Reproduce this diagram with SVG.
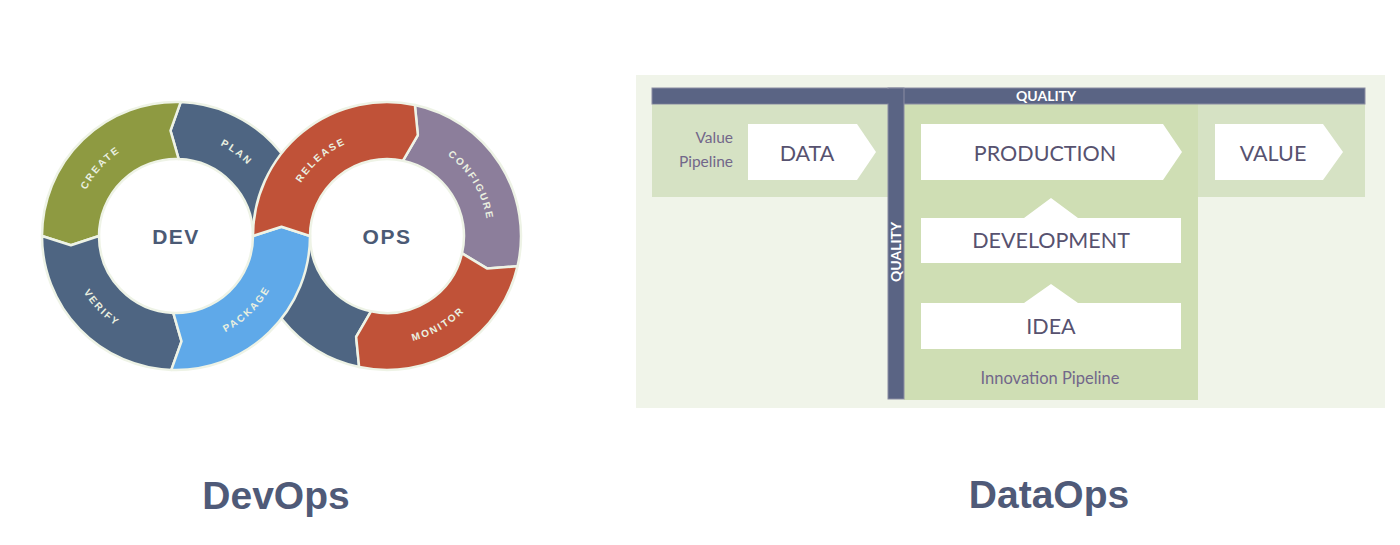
<svg xmlns="http://www.w3.org/2000/svg" width="1400" height="545" viewBox="0 0 1400 545">
<style>
.seg{stroke:#eef3e6;stroke-width:2.5;stroke-linejoin:round}
.lbl{font-family:"Liberation Sans",Arial,sans-serif;font-weight:bold;font-size:10px;letter-spacing:2px;fill:#eaf0e0}
.hub{font-family:"Liberation Sans",Arial,sans-serif;font-weight:bold;font-size:21px;letter-spacing:1.5px;fill:#4b5a75;text-anchor:middle}
.title{font-family:"Liberation Sans",Arial,sans-serif;font-weight:bold;font-size:39px;fill:#4f5a78;text-anchor:middle}
.box{fill:#ffffff}
.btxt{font-family:Lato,"Liberation Sans",sans-serif;font-size:21.5px;fill:#57526f;text-anchor:middle}
.note{font-family:Lato,"Liberation Sans",sans-serif;font-size:15.5px;fill:#72678a}
.q{font-family:Lato,"Liberation Sans",sans-serif;font-weight:bold;font-size:14px;fill:#ffffff;text-anchor:middle}
.bar{fill:#5a6484;stroke:#8a8ca2;stroke-width:1}
</style>
<defs>
<path id="pCreate" d="M75.06,232.48 A101,101 0 0 1 161.94,135.98"/>
<path id="pPlan" d="M168.95,135.25 A101,101 0 0 1 274.00,211.57"/>
<path id="pVerify" d="M68.26,243.53 A108,108 0 0 0 164.71,343.41"/>
<path id="pPackage" d="M183.53,343.74 A108,108 0 0 0 283.41,247.29"/>
<path id="pRelease" d="M287.24,220.20 A101,101 0 0 1 385.24,135.02"/>
<path id="pConfigure" d="M419.88,140.50 A101,101 0 0 1 486.76,251.80"/>
<path id="pMonitor" d="M368.25,342.36 A108,108 0 0 0 488.49,272.94"/>
</defs>
<rect width="1400" height="545" fill="#ffffff"/>

<g id="devops">
  <g id="plan">
    <path class="seg" fill="#4e6582" d="M180.68,102.08 L170.48,130.64 L178.69,159.05 A77,77 0 0 1 253,236 L310,236 A134,134 0 0 0 180.68,102.08 Z"/>
    <text class="lbl"><textPath href="#pPlan" startOffset="50%" text-anchor="middle">PLAN</textPath></text>
  </g>
  <g id="plan-return">
    <path class="seg" fill="#4e6582" d="M359.14,367.07 A134,134 0 0 1 253,236 L310,236 A77,77 0 0 0 370.99,311.32 L356.15,336.89 Z"/>
  </g>
  <g id="create">
    <path class="seg" fill="#8e9a41" d="M180.68,102.08 A134,134 0 0 0 42,236 L70.90,245.20 L99,236 A77,77 0 0 1 178.69,159.05 L170.48,130.64 Z"/>
    <text class="lbl"><textPath href="#pCreate" startOffset="50%" text-anchor="middle">CREATE</textPath></text>
  </g>
  <g id="verify">
    <path class="seg" fill="#4e6582" d="M42,236 A134,134 0 0 0 171.32,369.92 L181.52,341.36 L173.31,312.95 A77,77 0 0 1 99,236 L70.90,245.20 Z"/>
    <text class="lbl"><textPath href="#pVerify" startOffset="50%" text-anchor="middle">VERIFY</textPath></text>
  </g>
  <g id="configure">
    <path class="seg" fill="#8c7e9b" d="M414.86,104.93 A134,134 0 0 1 517.57,266.14 L487.34,268.60 L462.03,253.32 A77,77 0 0 0 403.01,160.68 L417.85,135.11 Z"/>
    <text class="lbl"><textPath href="#pConfigure" startOffset="50%" text-anchor="middle">CONFIGURE</textPath></text>
  </g>
  <g id="monitor">
    <path class="seg" fill="#c05238" d="M517.57,266.14 A134,134 0 0 1 359.14,367.07 L356.15,336.89 L370.99,311.32 A77,77 0 0 0 462.03,253.32 L487.34,268.60 Z"/>
    <text class="lbl"><textPath href="#pMonitor" startOffset="50%" text-anchor="middle">MONITOR</textPath></text>
  </g>
  <g id="package">
    <path class="seg" fill="#5fa9e9" d="M171.32,369.92 A134,134 0 0 0 310,236 L281.5,226.80 L253,236 A77,77 0 0 1 173.31,312.95 L181.52,341.36 Z"/>
    <text class="lbl"><textPath href="#pPackage" startOffset="50%" text-anchor="middle">PACKAGE</textPath></text>
  </g>
  <g id="release">
    <path class="seg" fill="#c05238" d="M253,236 A134,134 0 0 1 414.86,104.93 L417.85,135.11 L403.01,160.68 A77,77 0 0 0 310,236 L281.5,226.80 Z"/>
    <text class="lbl"><textPath href="#pRelease" startOffset="50%" text-anchor="middle">RELEASE</textPath></text>
  </g>
  <g id="dev"><text class="hub" x="176" y="243.5">DEV</text></g>
  <g id="ops"><text class="hub" x="387" y="243.5">OPS</text></g>
</g>

<g id="dataops">
  <rect x="636" y="75" width="749" height="333" fill="#f0f4e9"/>
  <g id="value-pipeline">
    <rect x="652" y="104" width="236" height="93" fill="#d6e2c4"/>
    <rect x="1198" y="104" width="167" height="93" fill="#d6e2c4"/>
    <text class="note" x="733" y="143" text-anchor="end">Value</text>
    <text class="note" x="733" y="167" text-anchor="end">Pipeline</text>
  </g>
  <g id="innovation-pipeline">
    <rect x="904" y="104" width="294" height="296" fill="#cfdeb4"/>
    <text class="note" x="1050" y="384" text-anchor="middle" style="font-size:16.5px">Innovation Pipeline</text>
  </g>
  <g id="quality-h">
    <rect class="bar" x="652" y="88" width="713" height="16"/>
    <text class="q" x="1046" y="101">QUALITY</text>
  </g>
  <g id="quality-v">
    <rect class="bar" x="888" y="88" width="16" height="311"/>
    <rect x="653" y="89" width="250" height="14.5" fill="#5a6484"/>
    <text class="q" transform="translate(901,252) rotate(-90)">QUALITY</text>
  </g>
  <g id="data">
    <polygon class="box" points="748,124 857,124 876,152 857,180 748,180"/>
    <text class="btxt" x="807" y="160.5">DATA</text>
  </g>
  <g id="production">
    <polygon class="box" points="921,124 1163,124 1182,152 1163,180 921,180"/>
    <text class="btxt" x="1045" y="160.5">PRODUCTION</text>
  </g>
  <g id="value">
    <polygon class="box" points="1215,124 1323,124 1343,152 1323,180 1215,180"/>
    <text class="btxt" x="1273" y="160.5">VALUE</text>
  </g>
  <g id="development">
    <polygon class="box" points="921,218 1024,218 1051,198 1078,218 1181,218 1181,263 921,263"/>
    <text class="btxt" x="1051" y="248">DEVELOPMENT</text>
  </g>
  <g id="idea">
    <polygon class="box" points="921,303 1024,303 1051,284 1078,303 1181,303 1181,349 921,349"/>
    <text class="btxt" x="1051" y="334">IDEA</text>
  </g>
</g>

<g id="connectors"></g>

<g id="titles">
  <text class="title" x="276" y="509">DevOps</text>
  <text class="title" x="1049" y="508">DataOps</text>
</g>
</svg>
